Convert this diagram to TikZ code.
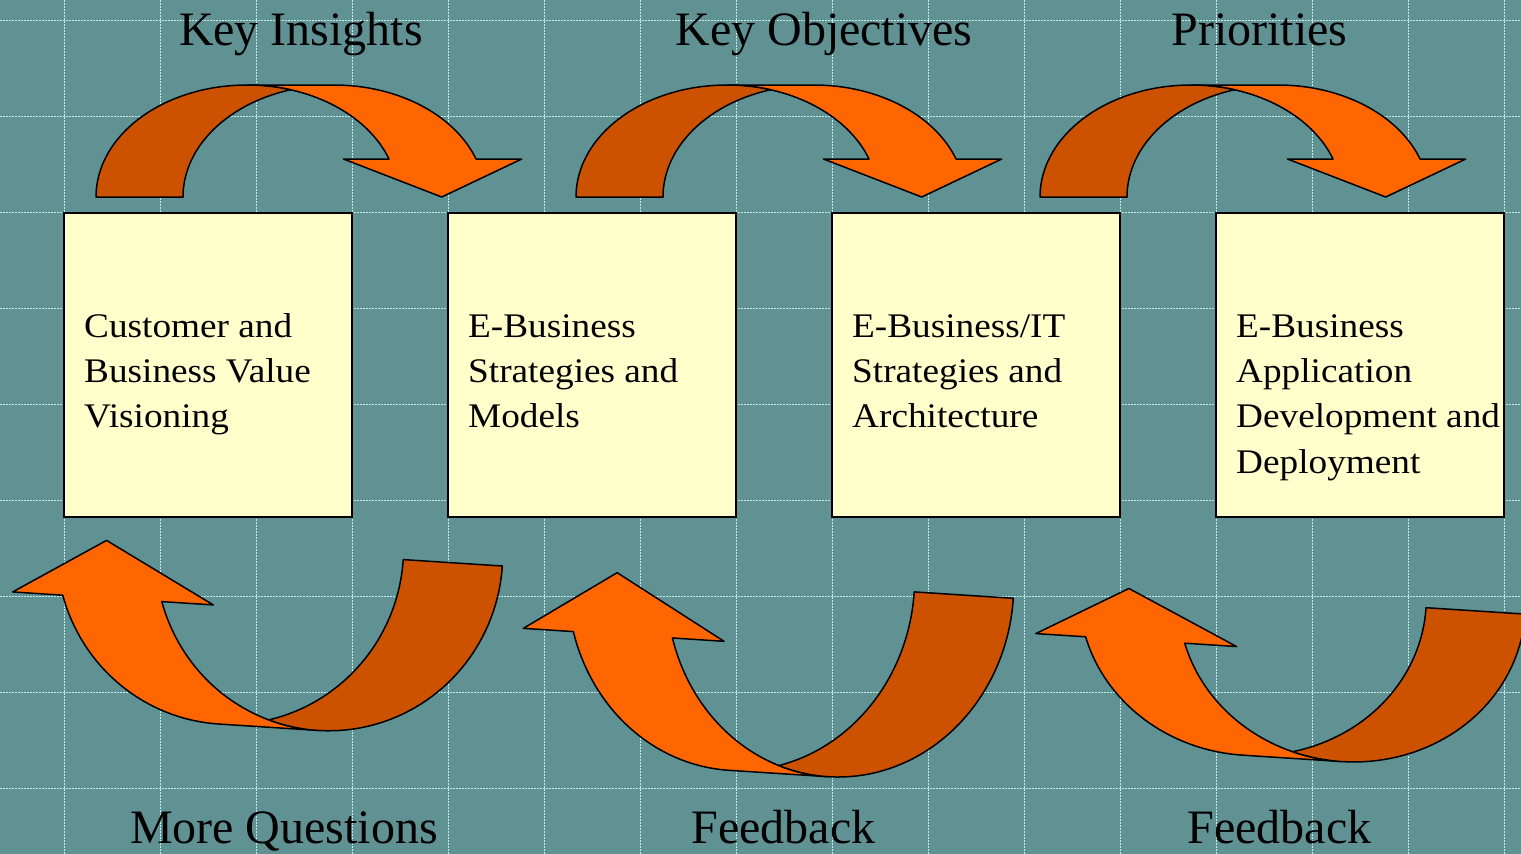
\documentclass[tikz,border=0pt]{standalone}
\usepackage{fontspec}
\setmainfont{Liberation Serif}
\newfontfamily\boxfont[FakeStretch=1.08]{Liberation Serif}
\definecolor{bgteal}{RGB}{96,146,148}
\definecolor{gridcol}{RGB}{196,236,236}
\definecolor{boxfill}{RGB}{255,255,204}
\definecolor{frontcol}{RGB}{255,102,0}
\definecolor{backcol}{RGB}{204,82,0}
\tikzset{
  boxnode/.style={draw=black, line width=1.5pt, fill=boxfill, minimum width=288pt, minimum height=304pt, inner sep=0pt},
  boxtext/.style={anchor=base west, inner sep=0pt, font=\boxfont\fontsize{34.5}{45.3}\selectfont},
  titletext/.style={anchor=base, inner sep=0pt, font=\fontsize{48}{55}\selectfont},
  frontpart/.style={fill=frontcol, draw=black, line width=1.5pt, line join=round},
  backpart/.style={fill=backcol, draw=black, line width=1.5pt, line join=round},
  gridline/.style={draw=gridcol, line width=1pt, dash pattern=on 1.5pt off 1.5pt}
}
% #1 rx, #2 h, #3 thickness, #4 head shoulder height, #5 near wing x, #6 far wing x, #7 tip x
\newcommand{\curvarrow}[7]{%
  \pgfmathsetmacro{\crvca}{acos(#3/(2*#1))}%
  \pgfmathsetmacro{\crvsa}{asin(#4/#2)}%
  \pgfmathsetmacro{\crvthA}{360-\crvca}%
  \pgfmathsetmacro{\crvthB}{180+\crvca}%
  \pgfmathsetmacro{\crvths}{360-\crvsa}%
  \pgfmathsetmacro{\crvcB}{#1+#3}%
  \filldraw[frontpart] (#7,0) -- (#5,-#4)
     -- plot[domain=\crvths:270,samples=45] ({#1+#1*cos(\x)},{#2*sin(\x)})
     -- plot[domain=270:\crvths,samples=45] ({\crvcB+#1*cos(\x)},{#2*sin(\x)})
     -- (#6,-#4) -- cycle;
  \filldraw[backpart] (0,0)
     -- plot[domain=180:\crvthA,samples=50] ({#1+#1*cos(\x)},{#2*sin(\x)})
     -- plot[domain=\crvthB:180,samples=50] ({\crvcB+#1*cos(\x)},{#2*sin(\x)}) -- cycle;
}
\begin{document}
\begin{tikzpicture}[x=1pt, y=-1pt]
\useasboundingbox (0,0) rectangle (1521,854);
\begin{scope}
\clip (0,0) rectangle (1521,854);
\fill[bgteal] (0,0) rectangle (1521,854);
\foreach \gx in {64,160,...,1504} { \draw[gridline] (\gx,0) -- (\gx,854); }
\foreach \gy in {20,116,...,788} { \draw[gridline] (0,\gy) -- (1521,\gy); }

% boxes
\node[boxnode] (b1) at (208,365) {};
\node[boxnode] (b2) at (592,365) {};
\node[boxnode] (b3) at (976,365) {};
\node[boxnode] (b4) at (1360,365) {};

\node[boxtext] (t1) at (84,337.3) {\begin{tabular}[t]{@{}l@{}}Customer and\\Business Value\\Visioning\end{tabular}};
\node[boxtext] (t2) at (468,337.3) {\begin{tabular}[t]{@{}l@{}}E-Business\\Strategies and\\Models\end{tabular}};
\node[boxtext] (t3) at (852,337.3) {\begin{tabular}[t]{@{}l@{}}E-Business/IT\\Strategies and\\Architecture\end{tabular}};
\node[boxtext] (t4) at (1236,337.3) {\begin{tabular}[t]{@{}l@{}}E-Business\\Application\\Development and\\Deployment\end{tabular}};

% top arrows
\begin{scope}[shift={(96,197)}]
  \curvarrow{151}{112}{87}{38}{247.5}{425.7}{345.7}
\end{scope}
\begin{scope}[shift={(576,197)}]
  \curvarrow{151}{112}{87}{38}{247.5}{425.7}{345.7}
\end{scope}
\begin{scope}[shift={(1040,197)}]
  \curvarrow{151}{112}{87}{38}{247.5}{425.7}{345.7}
\end{scope}

% bottom arrows
\begin{scope}[shift={(502.3,566)}, rotate=176.3]
  \curvarrow{173.5}{176}{99.3}{57.5}{285.9}{487}{396.6}
\end{scope}
\begin{scope}[shift={(1013.3,598.3)}, rotate=176.3]
  \curvarrow{173.5}{190}{99.3}{61.6}{285.9}{487}{397}
\end{scope}
\begin{scope}[shift={(1525.1,614.1)}, rotate=176.3]
  \curvarrow{173.5}{159}{99.3}{51}{285.9}{487}{397}
\end{scope}

% titles
\node[titletext] (k1) at (301,45) {Key Insights};
\node[titletext] (k2) at (824,45) {Key Objectives};
\node[titletext] (k3) at (1259.5,45) {Priorities};
\node[titletext] (m1) at (284,843.3) {More Questions};
\node[titletext] (f1) at (783.5,843.3) {Feedback};
\node[titletext] (f2) at (1279.5,843.3) {Feedback};
\end{scope}
\end{tikzpicture}
\end{document}
